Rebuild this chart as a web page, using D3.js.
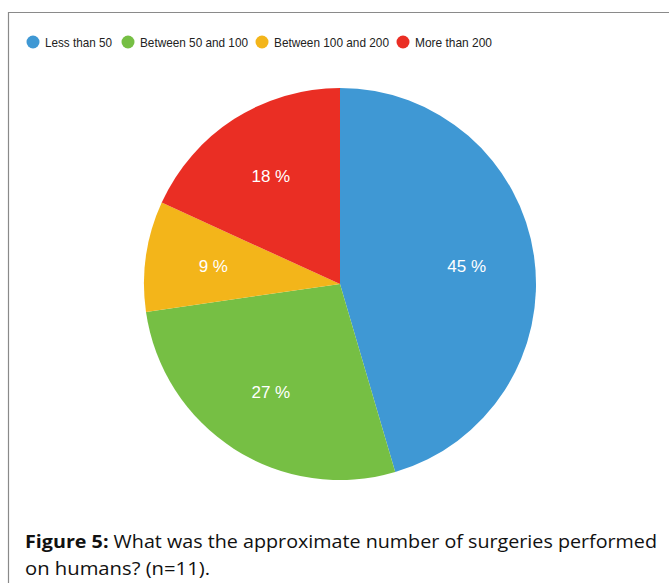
<!DOCTYPE html>
<html><head><meta charset="utf-8">
<script src="https://cdn.jsdelivr.net/npm/d3@7"></script>
<style>body{margin:0;background:#fff}svg{display:block}</style>
</head><body>
<svg id="c" width="669" height="583"></svg>
<script>
const categories = ["Less than 50", "Between 50 and 100", "Between 100 and 200", "More than 200"];
const counts = [5, 3, 1, 2];
const labels = ["45 %", "27 %", "9 %", "18 %"];
const colors = ["#3f98d4", "#76bf44", "#f3b51a", "#ea2e24"];
const captionBold = "Figure 5:";
const captionRest = " What was the approximate number of surgeries performed";
const captionLine2 = "on humans? (n=11).";

const svg = d3.select("#c");
// frame
svg.append("path").attr("d", "M8.5,600 L8.5,12.5 L700,12.5")
  .attr("fill", "none").attr("stroke", "#8a8a8a").attr("stroke-width", 1.2);

// legend
const legendX = [33, 128, 262, 403];
const legendW = [67, 108, 115, 77];
const lg = svg.append("g");
categories.forEach((c, i) => {
  lg.append("circle").attr("cx", legendX[i]).attr("cy", 42).attr("r", 6.5).attr("fill", colors[i]);
  lg.append("text").attr("x", legendX[i] + 12).attr("y", 47).text(c)
    .attr("font-family", "Liberation Sans, Arial, sans-serif").attr("font-size", 13.5).attr("fill", "#222")
    .attr("textLength", legendW[i]).attr("lengthAdjust", "spacingAndGlyphs");
});

// pie
const cx = 340, cy = 284, r = 196;
const pie = d3.pie().sort(null).value(d => d)(counts);
const arc = d3.arc().innerRadius(0).outerRadius(r);
const labelArc = d3.arc().innerRadius(128).outerRadius(128);
const g = svg.append("g").attr("transform", `translate(${cx},${cy})`);
g.selectAll("path").data(pie).join("path").attr("d", arc).attr("fill", (d, i) => colors[i]);
g.selectAll("text").data(pie).join("text")
  .attr("transform", d => `translate(${labelArc.centroid(d)})`)
  .attr("text-anchor", "middle").attr("dy", "0.35em")
  .attr("font-family", "Liberation Sans Narrow, Liberation Sans, Arial, sans-serif")
  .attr("font-size", 17).attr("fill", "#fff")
  .text((d, i) => labels[i]);

// caption
const cap = svg.append("text").attr("x", 25).attr("y", 548)
  .attr("font-family", "Open Sans, Liberation Sans, sans-serif").attr("font-size", 18).attr("fill", "#111")
  .attr("textLength", 632).attr("lengthAdjust", "spacingAndGlyphs");
cap.append("tspan").attr("font-weight", "bold").text(captionBold);
cap.append("tspan").text(captionRest);
svg.append("text").attr("x", 25).attr("y", 575)
  .attr("font-family", "Open Sans, Liberation Sans, sans-serif").attr("font-size", 18).attr("fill", "#111")
  .attr("textLength", 185).attr("lengthAdjust", "spacingAndGlyphs")
  .text(captionLine2);
</script>
</body></html>
